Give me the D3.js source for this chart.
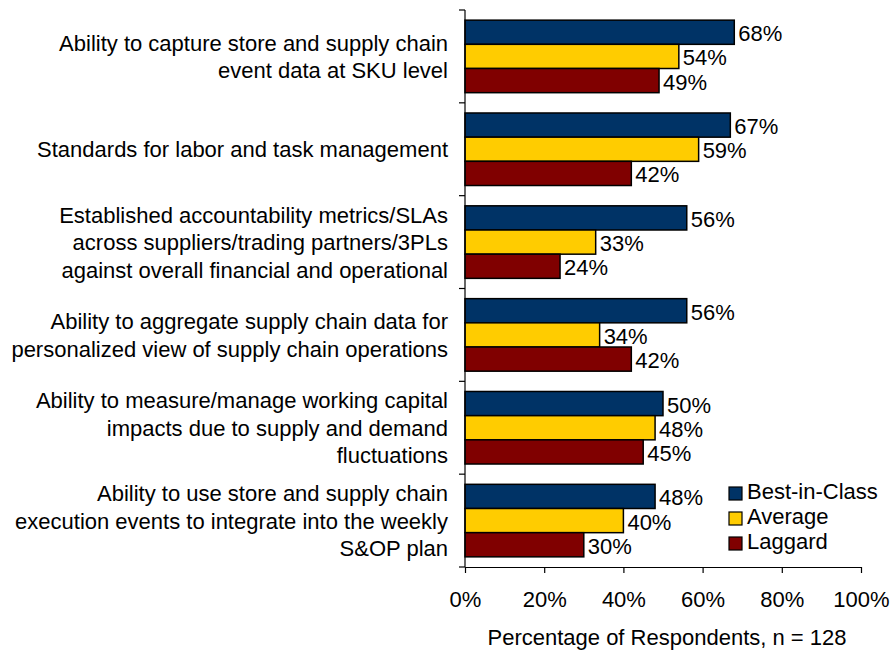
<!DOCTYPE html>
<html>
<head>
<meta charset="utf-8">
<script src="https://cdn.jsdelivr.net/npm/d3@7"></script>
<style>
  body { margin: 0; background: #fff; }
  text { font-family: "Liberation Sans", Arial, sans-serif; fill: #000; }
</style>
</head>
<body>
<svg width="891" height="652"></svg>
<script>
// Categories, each one split into its display lines
const categories = [
    ["Ability to capture store and supply chain", "event data at SKU level"],
    ["Standards for labor and task management"],
    ["Established accountability metrics/SLAs", "across suppliers/trading partners/3PLs", "against overall financial and operational"],
    ["Ability to aggregate supply chain data for", "personalized view of supply chain operations"],
    ["Ability to measure/manage working capital", "impacts due to supply and demand", "fluctuations"],
    ["Ability to use store and supply chain", "execution events to integrate into the weekly", "S&OP plan"]
];
const seriesNames = ["Best-in-Class", "Average", "Laggard"];
const bestInClass = [68, 67, 56, 56, 50, 48];
const average = [54, 59, 33, 34, 48, 40];
const laggard = [49, 42, 24, 42, 45, 30];
const xTicks = [0, 20, 40, 60, 80, 100];
const colors = ["#003366", "#FFCC00", "#800000"];

const svg = d3.select('svg');
const plotLeft = 465, plotRight = 861, plotTop = 10, plotBottom = 567;
const fontSize = '22px';

// Scales
const x = d3.scaleLinear().domain([0, 100]).range([plotLeft, plotRight]);
const y = d3.scaleBand().domain(d3.range(categories.length)).range([plotTop, plotBottom]);
const inner = d3.scaleBand().domain(d3.range(seriesNames.length))
    .range([0, y.bandwidth()]).paddingOuter(0.42).paddingInner(0);

const series = [bestInClass, average, laggard];

// Bars and value labels
series.forEach((vals, s) => {
    svg.append('g').selectAll('rect')
        .data(vals)
        .join('rect')
        .attr('x', x(0))
        .attr('y', (d, i) => y(i) + inner(s))
        .attr('width', d => x(d) - x(0))
        .attr('height', inner.bandwidth())
        .style('fill', colors[s])
        .style('stroke', '#000')
        .style('stroke-width', 1.5);

    svg.append('g').selectAll('text')
        .data(vals)
        .join('text')
        .attr('x', d => x(d) + 4)
        .attr('y', (d, i) => y(i) + inner(s) + inner.bandwidth() / 2 + 9)
        .style('font-size', fontSize)
        .text(d => d + '%');
});

// Y axis (category ticks between groups)
const yAxis = svg.append('g');
yAxis.append('line')
    .attr('x1', plotLeft).attr('x2', plotLeft).attr('y1', plotTop).attr('y2', plotBottom)
    .style('stroke', '#000').style('stroke-width', 1.2);
d3.range(categories.length + 1).forEach(i => {
    const yy = plotTop + i * y.step();
    yAxis.append('line')
        .attr('x1', plotLeft - 6).attr('x2', plotLeft).attr('y1', yy).attr('y2', yy)
        .style('stroke', '#000').style('stroke-width', 1.2);
});

// Category labels
categories.forEach((lines, i) => {
    const cy = y(i) + y.bandwidth() / 2;
    const lh = 27.5;
    const t = svg.append('text')
        .attr('text-anchor', 'end')
        .style('font-size', fontSize);
    lines.forEach((ln, k) => {
        t.append('tspan')
            .attr('x', 448)
            .attr('y', cy + (k - (lines.length - 1) / 2) * lh + 8)
            .text(ln);
    });
});

// X axis
const xAxis = svg.append('g').attr('transform', `translate(0,${plotBottom})`)
    .call(d3.axisBottom(x).tickValues(xTicks).tickSize(6).tickSizeOuter(0).tickPadding(18).tickFormat(d => d + '%'));
xAxis.select('.domain').style('stroke', '#000').style('stroke-width', 1.2);
xAxis.selectAll('.tick line').style('stroke', '#000').style('stroke-width', 1.2);
xAxis.selectAll('.tick text')
    .style('font-family', '"Liberation Sans", Arial, sans-serif')
    .style('font-size', fontSize)
    .style('fill', '#000');

// Axis title
svg.append('text')
    .attr('x', 667)
    .attr('y', 645)
    .attr('text-anchor', 'middle')
    .style('font-size', fontSize)
    .text('Percentage of Respondents, n = 128');

// Legend
const legend = svg.append('g');
seriesNames.forEach((name, i) => {
    const ly = 499 + i * 25;
    legend.append('rect')
        .attr('x', 729).attr('y', ly - 12)
        .attr('width', 13).attr('height', 13)
        .style('fill', colors[i])
        .style('stroke', '#000')
        .style('stroke-width', 1.2);
    legend.append('text')
        .attr('x', 747).attr('y', ly)
        .style('font-size', fontSize)
        .text(name);
});
</script>
</body>
</html>
